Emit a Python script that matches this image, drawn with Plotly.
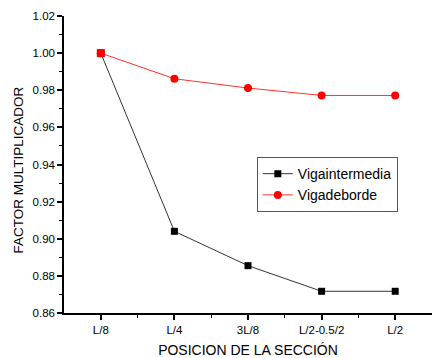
import plotly.graph_objects as go

categories = ["L/8", "L/4", "3L/8", "L/2-0.5/2", "L/2"]
vigaintermedia = [1.000, 0.9040, 0.8855, 0.8717, 0.8717]
vigadeborde = [1.000, 0.9862, 0.9812, 0.9772, 0.9772]

xpos = list(range(len(categories)))

fig = go.Figure()
fig.add_trace(go.Scatter(
    x=xpos, y=vigaintermedia, mode="lines+markers", name="Vigaintermedia",
    line=dict(color="#333333", width=1),
    marker=dict(symbol="square", size=7, color="black"),
))
fig.add_trace(go.Scatter(
    x=xpos, y=vigadeborde, mode="lines+markers", name="Vigadeborde",
    line=dict(color="#ff3030", width=1),
    marker=dict(symbol="circle", size=8, color="#ff0000"),
))
fig.add_trace(go.Scatter(
    x=xpos[:1], y=vigadeborde[:1], mode="markers", showlegend=False,
    marker=dict(symbol="square", size=8, color="#ff0000"),
))

font = "Liberation Sans, Arial, sans-serif"
fig.update_layout(
    width=432, height=358,
    margin=dict(l=64, r=0, t=16, b=45),
    paper_bgcolor="white", plot_bgcolor="white",
    font=dict(family=font, size=11, color="black"),
    showlegend=True,
    legend=dict(
        x=0.524, y=0.525, xanchor="left", yanchor="top",
        bordercolor="#555555", borderwidth=1, bgcolor="white",
        font=dict(size=14, family=font), tracegroupgap=0,
        itemwidth=30,
    ),
    xaxis=dict(
        range=[-0.5, 4.5], tickvals=xpos, ticktext=categories,
        showline=True, linecolor="black", linewidth=1.5,
        ticks="outside", ticklen=5, tickwidth=1.5, tickcolor="black",
        minor=dict(tickvals=[0.5, 1.5, 2.5, 3.5], ticks="outside", ticklen=3, tickcolor="black", tickwidth=1),
        showgrid=False, zeroline=False, automargin=False,
        title=dict(text="POSICION DE LA SECCIÓN", font=dict(size=14)),
        tickfont=dict(size=11.5),
    ),
    yaxis=dict(
        range=[0.86, 1.02], dtick=0.02, tick0=0.86, tickformat=".2f",
        showline=True, linecolor="black", linewidth=1.5,
        ticks="outside", ticklen=5, tickwidth=1.5, tickcolor="black",
        minor=dict(dtick=0.01, ticks="outside", ticklen=3, tickcolor="black", tickwidth=1),
        showgrid=False, zeroline=False, automargin=False,
        tickfont=dict(size=11.5),
    ),
    annotations=[dict(
        text="FACTOR MULTIPLICADOR", textangle=-90, showarrow=False,
        xref="paper", yref="paper", x=0, y=0.5, xanchor="center", yanchor="middle",
        xshift=-46, yshift=-6, font=dict(size=13.5),
    )],
)

fig.write_html("out.html", config={"displayModeBar": False},
               post_script="document.body.style.margin='0';document.body.style.overflow='hidden';")
